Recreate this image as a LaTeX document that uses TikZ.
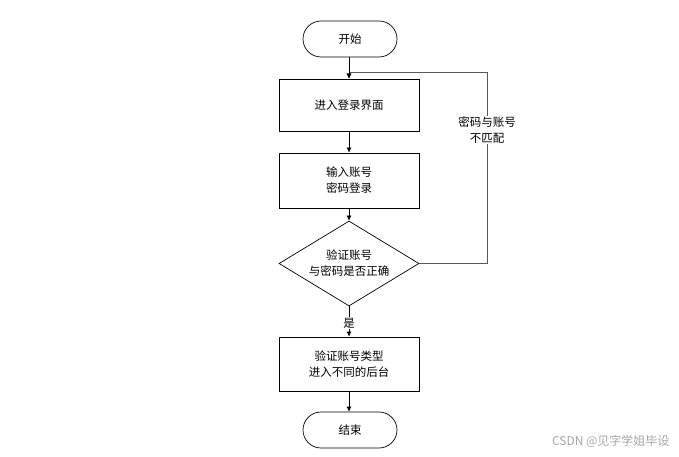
\documentclass[tikz,border=0pt]{standalone}
\usepackage{fontspec}
\setmainfont{Noto Sans CJK SC}
\usetikzlibrary{shapes.geometric,arrows.meta}
\begin{document}
\begin{tikzpicture}[x=1pt,y=-1pt,
  every node/.style={font=\fontsize{11.5}{16}\selectfont, align=center},
  term/.style={draw, line width=0.7pt, rounded corners=18pt, minimum width=94pt, minimum height=36pt, inner sep=0pt},
  proc/.style={draw, line width=0.7pt, minimum width=140pt, minimum height=53pt, inner sep=0pt},
  dec/.style={draw, line width=0.7pt, diamond, minimum width=140pt, minimum height=85pt, inner sep=0pt, aspect=1.65},
  conn/.style={line width=0.7pt, -{Latex[length=5pt,width=5pt]}},
  loopline/.style={line width=0.9pt, draw=black!65}
]
\useasboundingbox (0,0) rectangle (679,457);
\node[term] (start) at (350,39) {开始};
\node[proc, minimum height=52pt] (p1) at (349,105) {进入登录界面};
\node[proc, minimum height=55pt] (p2) at (349,180.5) {输入账号\\密码登录};
\node[dec] (d) at (349,263.5) {验证账号\\与密码是否正确};
\node[proc, minimum height=54pt] (p3) at (349,364) {验证账号类型\\进入不同的后台};
\node[term] (end) at (350,430) {结束};
\coordinate (c1) at (487,263.5);
\coordinate (c2) at (487,72);
\coordinate (c3) at (349,72);
\draw[conn] (start.south -| p1.north) -- (p1.north);
\draw[conn] (p1) -- (p2);
\draw[conn] (p2) -- (d);
\draw[conn] (d) -- node[fill=white, inner sep=1pt, pos=0.55] (yes) {是} (p3);
\draw[conn] (p3) -- (end.north -| p3.south);
\draw[loopline] (d.east) -- (c1) -- (c2) -- (c3);
\draw[conn] (c3) -- (p1.north);
\node[fill=white, inner sep=1pt] (lbl) at (487,130) {密码与账号\\不匹配};
\node[text=black!35, font=\fontsize{12}{14}\selectfont, anchor=east] (wm) at (673,441) {CSDN @见字学姐毕设};
\end{tikzpicture}
\end{document}
